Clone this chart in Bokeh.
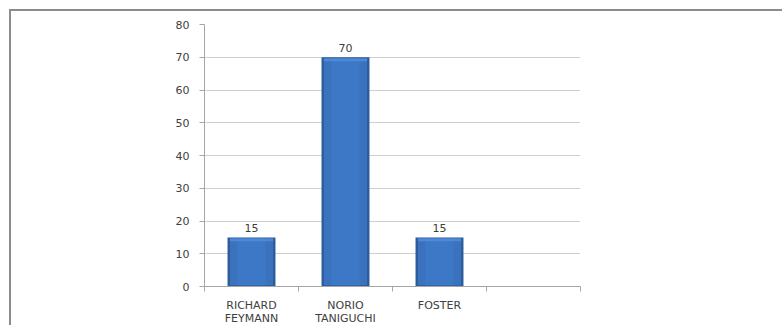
from bokeh.plotting import figure
from bokeh.models import Range1d, FixedTicker, LabelSet, ColumnDataSource
from bokeh.core.properties import value
from bokeh.embed import file_html
from bokeh.resources import INLINE

categories = ["RICHARD\nFEYMANN", "NORIO\nTANIGUCHI", "FOSTER", ""]
values = [15, 70, 15]
value_labels = ["15", "70", "15"]
y_ticks = [0, 10, 20, 30, 40, 50, 60, 70, 80]

n_slots = len(categories)
xs = [i + 0.5 for i in range(len(values))]
src = ColumnDataSource(dict(
    x=xs,
    top=values,
    top_in=[v - 0.35 for v in values],
    hl_bot=[v - 1.2 for v in values],
    label=value_labels,
))

FONT = "DejaVu Sans"
TXT = "#404040"

p = figure(width=773, height=316, output_backend="svg", toolbar_location=None,
           x_range=Range1d(0, n_slots), y_range=Range1d(0, 80),
           min_border_left=193, min_border_right=204, min_border_top=13, min_border_bottom=37)
p.styles = {"margin-left": "9px", "margin-top": "9px",
            "border-left": "2px solid #8c8c8c", "border-top": "2px solid #8c8c8c"}
p.outline_line_color = None
p.background_fill_color = "white"
p.border_fill_color = "white"

# bars (layered to imitate the bevelled look)
p.vbar(x="x", top="top", bottom=0, width=0.51, source=src, fill_color="#2c5b9b", line_color=None)
p.vbar(x="x", top="top_in", bottom=0.35, width=0.46, source=src, fill_color="#3a72be", line_color=None)
p.vbar(x="x", top="top_in", bottom=0.35, width=0.30, source=src, fill_color="#3d78c6", line_color=None)
p.vbar(x="x", top="top_in", bottom="hl_bot", width=0.46, source=src, fill_color="#4d89d6", line_color=None)

labels = LabelSet(x="x", y="top", text="label", source=src, text_align="center",
                  text_baseline="bottom", y_offset=5, text_font=value(FONT),
                  text_font_size="11px", text_color=TXT)
p.add_layout(labels)

# y axis
p.yaxis.ticker = FixedTicker(ticks=y_ticks)
p.yaxis.axis_line_color = "#a6a6a6"
p.yaxis.major_tick_line_color = "#a6a6a6"
p.yaxis.major_tick_out = 5
p.yaxis.major_tick_in = 0
p.yaxis.minor_tick_line_color = None
p.yaxis.major_label_standoff = 10
p.yaxis.major_label_text_font = FONT
p.yaxis.major_label_text_font_size = "11px"
p.yaxis.major_label_text_color = TXT

# x axis: labels at slot centres, ticks at slot boundaries
p.xaxis.ticker = FixedTicker(ticks=xs + [n_slots - 0.5],
                             minor_ticks=list(range(n_slots + 1)))
p.xaxis.major_label_overrides = {x: c for x, c in zip(xs + [n_slots - 0.5], categories)}
p.xaxis.axis_line_color = "#a6a6a6"
p.xaxis.major_tick_line_color = None
p.xaxis.major_tick_out = 0
p.xaxis.minor_tick_line_color = "#a6a6a6"
p.xaxis.minor_tick_out = 5
p.xaxis.minor_tick_in = 0
p.xaxis.major_label_standoff = 7
p.xaxis.major_label_text_font = FONT
p.xaxis.major_label_text_font_size = "11px"
p.xaxis.major_label_text_color = TXT
p.xaxis.major_label_text_line_height = 1.0

p.xgrid.grid_line_color = None
p.ygrid.grid_line_color = "#cfcfcf"
p.ygrid.ticker = FixedTicker(ticks=y_ticks)

open("out.html", "w").write(file_html(p, INLINE))
